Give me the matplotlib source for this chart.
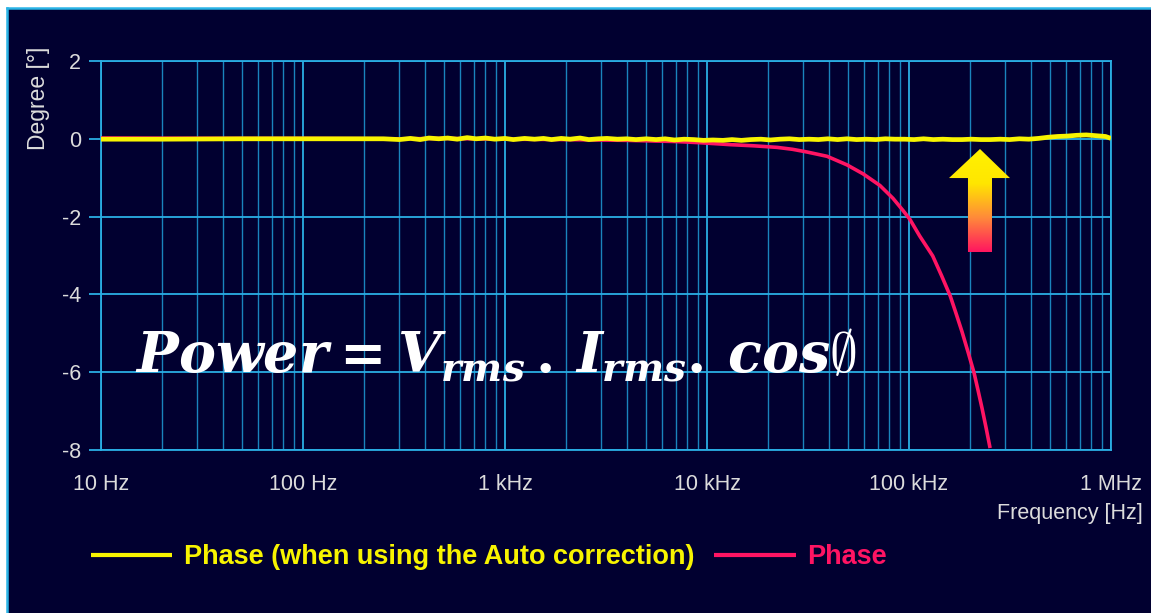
import numpy as np
import matplotlib
matplotlib.use('Agg')
import matplotlib.pyplot as plt
from matplotlib.colors import LinearSegmentedColormap
from matplotlib.lines import Line2D
from matplotlib.patches import Rectangle, Polygon
from matplotlib.ticker import FixedLocator, FixedFormatter, LogLocator, NullFormatter

# ---- data ----
FREQ_AUTO = [
    10, 20, 50, 100, 200, 250,
    300, 340, 380, 420, 470, 520, 580, 650, 720, 800, 890, 1000,
    1100, 1250, 1400, 1550, 1700, 1900, 2100, 2350, 2600, 2900, 3200,
    3600, 4000, 4450, 5000, 5600, 6200, 6900, 7700, 8600, 9600,
    10700, 12000, 13300, 14800, 16500, 18500, 20600, 23000, 25600, 28600,
    32000, 35600, 39700, 44300, 49400, 55000, 61400, 68500, 76400, 85200,
    95000,
    106000, 118000, 132000, 147000, 164000, 183000, 204000, 227000,
    253000, 283000, 315000, 352000, 392000, 437000, 488000, 544000,
    607000, 677000, 755000, 842000, 939000, 1000000,
]
PHASE_AUTO = [
    -0.01, -0.01, 0.0, 0.0, 0.0, 0.0,
    -0.02, 0.01, -0.02, 0.02, 0.0, 0.02, -0.01, 0.03, 0.0, 0.02, -0.01, 0.01,
    -0.02, 0.01, -0.01, 0.01, -0.02, 0.01, -0.01, 0.02, -0.02, 0.0, 0.01,
    -0.01, 0.0, -0.02, 0.0, -0.02, 0.0, -0.03, -0.01, -0.02, -0.04,
    -0.03, -0.04, -0.02, -0.04, -0.02, -0.01, -0.03, -0.01, 0.0, -0.02,
    -0.01, -0.02, 0.0, -0.02, 0.0, -0.02, -0.01, -0.02, 0.0, -0.01,
    -0.01,
    -0.02, 0.0, -0.02, -0.01, -0.02, -0.02, -0.01, -0.02,
    -0.02, -0.01, -0.02, 0.0, -0.01, 0.01, 0.04, 0.06,
    0.07, 0.09, 0.10, 0.08, 0.06, 0.01,
]

FREQ_RAW = [
    10, 50, 100, 300, 500, 1000, 2000, 4000, 7000, 9200, 13000, 17000,
    22200, 26500, 31300, 39300, 49300, 59200, 71800, 83300, 93300, 101000,
    113000, 131000, 145000, 160000, 171000, 183000, 196000, 210000,
    220000, 230000, 241000, 252000,
]
PHASE_RAW = [
    0.02, 0.01, 0.01, 0.0, 0.01, -0.01, -0.02, -0.04, -0.07, -0.10, -0.15, -0.18,
    -0.22, -0.27, -0.34, -0.45, -0.67, -0.90, -1.20, -1.53, -1.84, -2.07,
    -2.50, -3.01, -3.52, -4.04, -4.49, -4.96, -5.48, -6.02,
    -6.48, -6.93, -7.44, -7.95,
]

X_TICKS = [10, 100, 1e3, 1e4, 1e5, 1e6]
X_LABELS = ['10 Hz', '100 Hz', '1 kHz', '10 kHz', '100 kHz', '1 MHz']
Y_TICKS = [-8, -6, -4, -2, 0, 2]
Y_LABELS = ['-8', '-6', '-4', '-2', '0', '2']

LABEL_AUTO = 'Phase (when using the Auto correction)'
LABEL_RAW = 'Phase'

BG = '#010030'
TXT = '#dcdcdc'
GRID_MAJ = '#2aaee4'
GRID_MIN = '#1a84bd'
YELLOW = '#f8f400'
RED = '#ff1463'

plt.rcParams['font.family'] = ['Liberation Sans', 'DejaVu Sans']
plt.rcParams['axes.unicode_minus'] = False
plt.rcParams['mathtext.fontset'] = 'custom'
plt.rcParams['mathtext.it'] = 'DejaVu Serif:italic:bold'
plt.rcParams['mathtext.rm'] = 'DejaVu Serif:bold'
plt.rcParams['mathtext.bf'] = 'DejaVu Serif:bold'

W, H = 1151, 613
fig = plt.figure(figsize=(W / 100, H / 100), dpi=100, facecolor='white')

# dark panel with cyan top/left edge
fig.patches.append(Rectangle((7 / W, 0), 1, 1 - 8 / H, transform=fig.transFigure,
                             facecolor=BG, edgecolor='none', zorder=-5))
fig.add_artist(Line2D([7 / W, 1], [1 - 8 / H, 1 - 8 / H], transform=fig.transFigure,
                      color='#2ab4e6', lw=1.8, zorder=-4))
fig.add_artist(Line2D([7 / W, 7 / W], [0, 1 - 8 / H], transform=fig.transFigure,
                      color='#2ab4e6', lw=1.8, zorder=-4))

ax = fig.add_axes([101 / W, 1 - 450 / H, 1010 / W, 389 / H])
ax.set_facecolor(BG)
ax.set_xscale('log')

l_raw, = ax.plot(FREQ_RAW, PHASE_RAW, color=RED, lw=2.6, zorder=3,
                 solid_capstyle='butt')
l_auto, = ax.plot(FREQ_AUTO, PHASE_AUTO, color=YELLOW, lw=3.4, zorder=4,
                  solid_capstyle='butt')

ax.set_xlim(10, 1e6)
ax.set_ylim(-8, 2)
ax.xaxis.set_major_locator(FixedLocator(X_TICKS))
ax.xaxis.set_major_formatter(FixedFormatter(X_LABELS))
ax.xaxis.set_minor_locator(LogLocator(base=10, subs=np.arange(2, 10)))
ax.xaxis.set_minor_formatter(NullFormatter())
ax.yaxis.set_major_locator(FixedLocator(Y_TICKS))
ax.yaxis.set_major_formatter(FixedFormatter(Y_LABELS))

ax.grid(True, which='major', color=GRID_MAJ, lw=1.3)
ax.grid(True, which='minor', axis='x', color=GRID_MIN, lw=1.0)
ax.set_axisbelow(True)
for sp in ax.spines.values():
    sp.set_color(GRID_MAJ)
    sp.set_linewidth(1.3)

ax.tick_params(axis='x', which='both', length=0, pad=17, labelsize=15.5,
               labelcolor=TXT)
ax.tick_params(axis='y', which='major', length=8.5, width=1.3, color=GRID_MAJ,
               pad=6, labelsize=15.5, labelcolor=TXT)

fig.text(38 / W, 1 - 98 / H, 'Degree [°]', rotation=90, ha='center', va='center',
         fontsize=16.5, color=TXT)
fig.text(1143 / W, 1 - 514 / H, 'Frequency [Hz]', ha='right', va='center',
         fontsize=15.5, color=TXT)

# formula
fig.text(135 / W, 1 - 372 / H,
         r'$Power = V_{rms}\,.\,I_{rms}.\,cos\emptyset$',
         ha='left', va='baseline', fontsize=40, color='white', zorder=10)

# gradient arrow
ax_arr = fig.add_axes([949 / W, 1 - 252 / H, 61 / W, 103 / H])
ax_arr.set_axis_off()
ax_arr.set_xlim(0, 1)
ax_arr.set_ylim(0, 1)
cmap = LinearSegmentedColormap.from_list('arr', ['#ff1560', '#ff8a3a', '#ffe600', '#fff200'])
grad = np.linspace(0, 1, 256).reshape(-1, 1)
im = ax_arr.imshow(grad, extent=[0, 1, 0, 1], origin='lower', aspect='auto', cmap=cmap)
shape = Polygon([(0.311, 0), (0.705, 0), (0.705, 0.718), (1, 0.718), (0.508, 1),
                 (0, 0.718), (0.311, 0.718)], closed=True, transform=ax_arr.transAxes,
                facecolor='none', edgecolor='none')
ax_arr.add_patch(shape)
im.set_clip_path(shape)

# legend
leg = fig.legend([l_auto, l_raw], [LABEL_AUTO, LABEL_RAW], loc='center left',
                 bbox_to_anchor=(91 / W, 1 - 557 / H), bbox_transform=fig.transFigure,
                 ncol=2, frameon=False, borderpad=0, borderaxespad=0,
                 handlelength=3.0, handletextpad=0.42, columnspacing=0.75,
                 prop={'weight': 'bold', 'size': 19.5})
for txt, c in zip(leg.get_texts(), [YELLOW, RED]):
    txt.set_color(c)
for ln in leg.get_lines():
    ln.set_linewidth(3.0)

fig.savefig('out.png', dpi=100, facecolor='white')
